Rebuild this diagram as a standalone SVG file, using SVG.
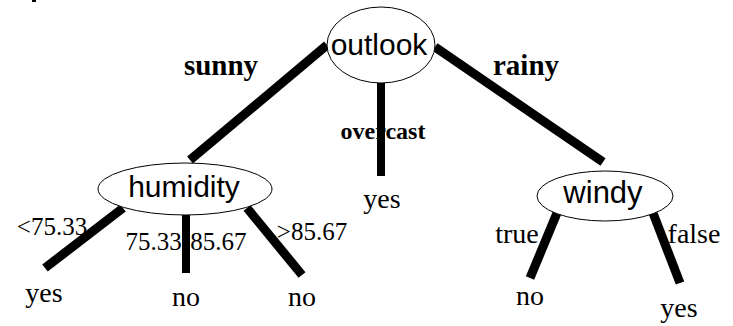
<svg xmlns="http://www.w3.org/2000/svg" width="733" height="326" viewBox="0 0 733 326">
<style>
.edge{stroke:#000;stroke-width:9;stroke-linecap:butt;fill:none}
.node{fill:#fff;stroke:#000;stroke-width:1}
.sans{font-family:"Liberation Sans",Arial,sans-serif;font-size:30px;fill:#000;text-anchor:middle}
.bold{font-family:"Liberation Serif","Times New Roman",serif;font-size:29px;font-weight:bold;fill:#000;text-anchor:middle}
.ser{font-family:"Liberation Serif","Times New Roman","DejaVu Serif",serif;fill:#000;text-anchor:middle;font-weight:normal}
</style>
<rect width="733" height="326" fill="#fff"/>
<rect x="32" y="0" width="4" height="2" fill="#000"/>
<g id="connectors">
<line class="edge" x1="327" y1="45" x2="190" y2="160"/>
<line class="edge" x1="381" y1="83" x2="381" y2="176" style="stroke-width:8"/>
<line class="edge" x1="435" y1="47" x2="603" y2="162"/>
<line class="edge" x1="123" y1="208" x2="45" y2="268"/>
<line class="edge" x1="186" y1="215" x2="186" y2="273" style="stroke-width:8"/>
<line class="edge" x1="247" y1="208" x2="302" y2="275"/>
<line class="edge" x1="557" y1="213" x2="530" y2="278"/>
<line class="edge" x1="653" y1="213" x2="680" y2="283"/>
<text class="bold" x="221" y="75">sunny</text>
<text class="bold" x="526" y="75">rainy</text>
<text class="bold" x="383" y="139" style="font-size:24px">overcast</text>
<text class="ser" x="52" y="235" font-size="25">&lt;75.33</text>
<text class="ser" x="186" y="250" font-size="25">75.33-85.67</text>
<text class="ser" x="312" y="240" font-size="25">&gt;85.67</text>
<text class="ser" x="517" y="243" font-size="28">true</text>
<text class="ser" x="694" y="243" font-size="28">false</text>
</g>
<g id="outlook">
<ellipse class="node" cx="381" cy="45" rx="54" ry="38"/>
<text class="sans" x="379" y="55">outlook</text>
</g>
<g id="humidity">
<ellipse class="node" cx="185" cy="189" rx="87" ry="26"/>
<text class="sans" x="184" y="197">humidity</text>
</g>
<g id="windy">
<ellipse class="node" cx="605" cy="196" rx="68" ry="25"/>
<text class="sans" x="603" y="203" style="font-size:31px">windy</text>
</g>
<g id="leaf-overcast-yes"><text class="ser" font-size="28" x="382" y="208">yes</text></g>
<g id="leaf-low-yes"><text class="ser" font-size="28" x="44" y="302">yes</text></g>
<g id="leaf-mid-no"><text class="ser" font-size="28" x="186" y="306">no</text></g>
<g id="leaf-high-no"><text class="ser" font-size="28" x="302" y="306">no</text></g>
<g id="leaf-true-no"><text class="ser" font-size="28" x="530" y="305">no</text></g>
<g id="leaf-false-yes"><text class="ser" font-size="28" x="679" y="317">yes</text></g>
</svg>
